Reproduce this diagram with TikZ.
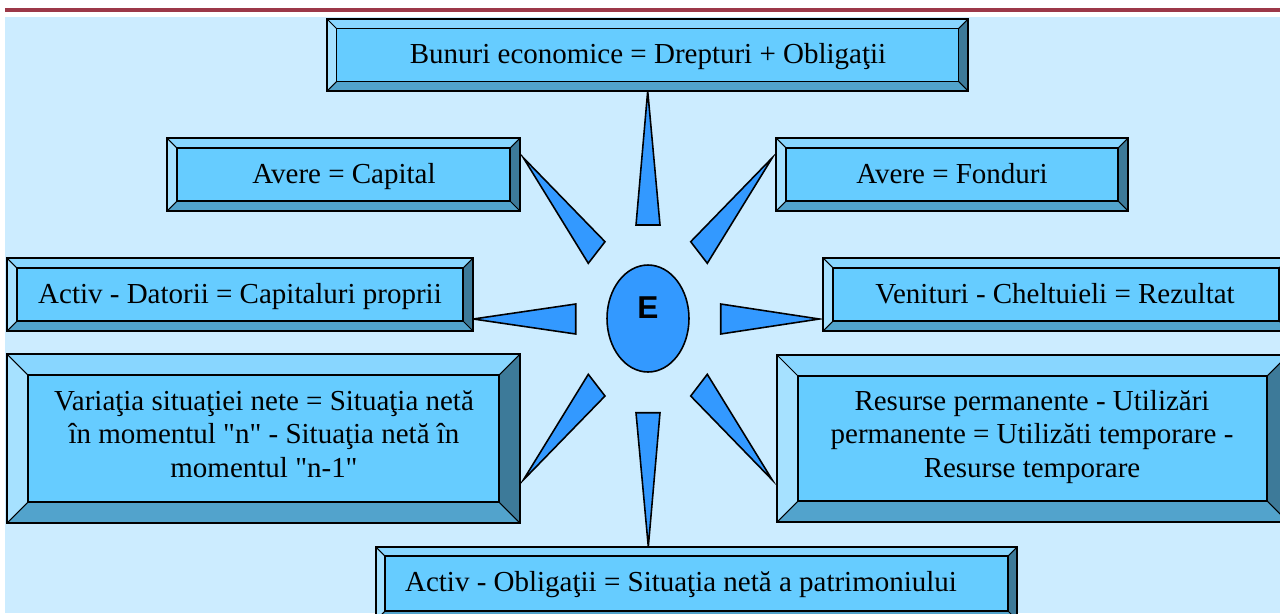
\documentclass[tikz,border=0pt]{standalone}
\usepackage{fontspec}
\setmainfont{Liberation Serif}[Ligatures=TeXOff]
\newfontfamily\esans{Liberation Sans}
\usetikzlibrary{shapes.geometric}
\definecolor{bgblue}{HTML}{CCECFF}
\definecolor{face}{HTML}{66CCFF}
\definecolor{btop}{HTML}{88D6FF}
\definecolor{bleft}{HTML}{A6E1FF}
\definecolor{bbot}{HTML}{52A3CC}
\definecolor{bright}{HTML}{3D7A99}
\definecolor{spike}{HTML}{3399FF}
\definecolor{redline}{HTML}{9C3848}
% name, x1, y1, x2, y2, bevel
\newcommand{\bevbox}[6]{%
  \fill[btop] (#2,#3) -- (#4,#3) -- (#4-#6,#3+#6) -- (#2+#6,#3+#6) -- cycle;
  \fill[bleft] (#2,#3) -- (#2+#6,#3+#6) -- (#2+#6,#5-#6) -- (#2,#5) -- cycle;
  \fill[bbot] (#2,#5) -- (#2+#6,#5-#6) -- (#4-#6,#5-#6) -- (#4,#5) -- cycle;
  \fill[bright] (#4,#3) -- (#4,#5) -- (#4-#6,#5-#6) -- (#4-#6,#3+#6) -- cycle;
  \fill[face] (#2+#6,#3+#6) rectangle (#4-#6,#5-#6);
  \draw[diag] (#2,#3) -- (#2+#6,#3+#6) (#4,#3) -- (#4-#6,#3+#6)
              (#2,#5) -- (#2+#6,#5-#6) (#4,#5) -- (#4-#6,#5-#6);
  \draw[edge] (#2,#3) rectangle (#4,#5);
  \draw[edge] (#2+#6,#3+#6) rectangle (#4-#6,#5-#6);
  \coordinate (#1) at ({(#2+#4)/2},{(#3+#5)/2});
}
\begin{document}
\begin{tikzpicture}[x=0.02cm,y=-0.02cm,
  edge/.style={line width=1.1pt},
  diag/.style={line width=0.6pt},
  lbl/.style={font=\fontsize{16.5}{19}\selectfont, anchor=base, inner sep=0pt, align=center},
  spk/.style={fill=spike, draw=black, line width=0.9pt}]
\clip (0,0) rectangle (1280,613);
\fill[white] (0,0) rectangle (1280,613);
\fill[bgblue] (5,17) rectangle (1280,613);
\draw[redline, line width=2.5pt] (5,10) -- (1280,10);

% spikes
\draw[spk] (647.7,91) -- (636,225) -- (660,225) -- cycle;
\draw[spk] (523.3,157.7) -- (605,241.7) -- (588.3,263.3) -- cycle;
\draw[spk] (772.3,157.7) -- (690.7,241.7) -- (707.3,263.3) -- cycle;
\draw[spk] (473.3,319) -- (575.7,304) -- (575.7,334) -- cycle;
\draw[spk] (819.3,319) -- (720.7,304) -- (720.7,334) -- cycle;
\draw[spk] (523.3,480) -- (588.3,374.3) -- (605,396) -- cycle;
\draw[spk] (772.3,480) -- (707.3,374.3) -- (690.7,396) -- cycle;
\draw[spk] (648.3,546.7) -- (636,412.7) -- (660,412.7) -- cycle;

% boxes
\bevbox{b1}{327}{19}{968}{91}{9.5}
\bevbox{b2}{167}{138}{520}{211}{10}
\bevbox{b3}{776}{138}{1128}{211}{10}
\bevbox{b4}{7}{258}{473}{331}{10}
\bevbox{b5}{823}{258}{1289}{331}{10}
\bevbox{b6}{7}{354}{520}{523}{21}
\bevbox{b7}{777}{355}{1288}{522}{21}
\bevbox{b8}{376}{547}{1017}{620}{9}

\node[lbl] (t1) at (648,63) {Bunuri economice = Drepturi + Obligaţii};
\node[lbl] (t2) at (344,183) {Avere = Capital};
\node[lbl] (t3) at (952,183) {Avere = Fonduri};
\node[lbl] (t4) at (240,303) {Activ - Datorii = Capitaluri proprii};
\node[lbl] (t5) at (1055,303) {Venituri - Cheltuieli = Rezultat};
\node[lbl] (t6) at (264,477) {Variaţia situaţiei nete = Situaţia netă\\în momentul "n" - Situaţia netă în\\momentul "n-1"};
\node[lbl] (t7) at (1032,477) {Resurse permanente - Utilizări\\permanente = Utilizăti temporare -\\Resurse temporare};
\node[lbl] (t8) at (681,591) {Activ - Obligaţii = Situaţia netă a patrimoniului};

% centre
\node[ellipse, draw, fill=spike, line width=0.9pt, minimum width=1.64cm, minimum height=2.14cm, inner sep=0pt] (E) at (648,318.5) {};
\node[font=\esans\bfseries\fontsize{18}{18}\selectfont, anchor=base, inner sep=0pt] (Et) at (648,318) {E};
\end{tikzpicture}
\end{document}
